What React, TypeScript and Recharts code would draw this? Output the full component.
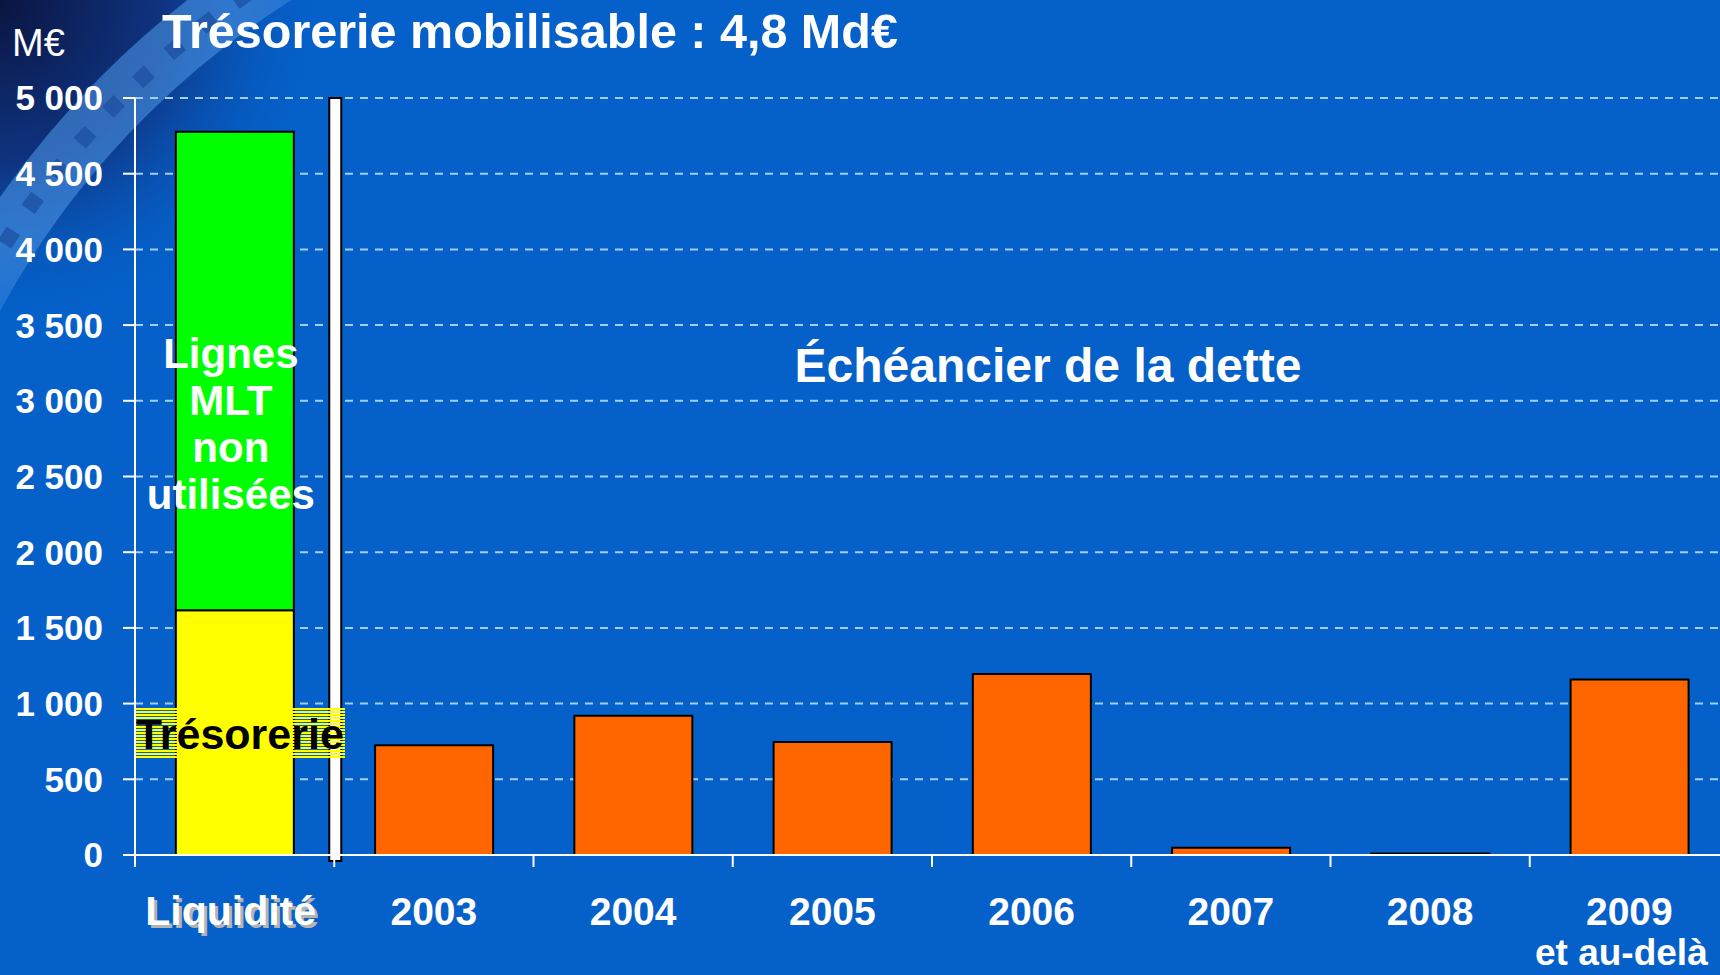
import React from 'react';
import { BarChart, Bar, XAxis, YAxis, CartesianGrid, ReferenceLine } from 'recharts';

const categories = ['Liquidité', '2003', '2004', '2005', '2006', '2007', '2008', '2009'];
const subLabels = ['', '', '', '', '', '', '', 'et au-delà'];
const tresorerie = [1617, null, null, null, null, null, null, null];
const lignesMLT = [3160, null, null, null, null, null, null, null];
const echeancier = [null, 725, 920, 747, 1195, 48, 10, 1159];
const yTicks = [0, 500, 1000, 1500, 2000, 2500, 3000, 3500, 4000, 4500, 5000];
const lignesLines = ['Lignes', 'MLT', 'non', 'utilisées'];
const tresoLabel = 'Trésorerie';
const title = 'Trésorerie mobilisable : 4,8 Md€';
const unit = 'M€';
const sectionLabel = 'Échéancier de la dette';

const data = categories.map((c, i) => ({
  name: c,
  treso: tresorerie[i],
  lignes: lignesMLT[i],
  dette: echeancier[i],
  sub: subLabels[i],
}));

const W = 1730;
const H = 975;
const MARGIN = { top: 98, right: 1, bottom: 10, left: 0 };
const Y_AXIS_W = 135;
const X_AXIS_H = 110;
const BAND = (W - MARGIN.right - MARGIN.left - Y_AXIS_W) / categories.length;
const FONT = '"Liberation Sans", Arial, Helvetica, sans-serif';

const fmt = (v: number) => (v >= 1000 ? `${Math.floor(v / 1000)} ${String(v % 1000).padStart(3, '0')}` : String(v));

const XTick = (props: any) => {
  const { x, y, payload, index } = props;
  const left = x - BAND / 2;
  const sub = subLabels[index ?? payload.index] || '';
  const isLiq = payload.value === 'Liquidité';
  return (
    <g>
      <line x1={left} x2={left} y1={y - 12} y2={y} stroke="#ffffff" strokeWidth={2} />
      {isLiq && (
        <text x={x - 1} y={y + 61} textAnchor="middle" fill="#b4b4b4" fontSize={41} fontWeight="bold" fontFamily={FONT}>
          {payload.value}
        </text>
      )}
      <text x={isLiq ? x - 4 : x} y={y + 58} textAnchor="middle" fill="#ffffff" fontSize={isLiq ? 41 : 39} fontWeight="bold" fontFamily={FONT}>
        {payload.value}
      </text>
      {sub && (
        <text x={x - 8} y={y + 98} textAnchor="middle" fill="#ffffff" fontSize={37} fontWeight="bold" fontFamily={FONT}>
          {sub}
        </text>
      )}
    </g>
  );
};

const getBox = (props: any) => {
  const vb = props.viewBox || {};
  return {
    x: props.x ?? vb.x,
    y: props.y ?? vb.y,
    width: props.width ?? vb.width,
    height: props.height ?? vb.height,
  };
};

const LignesLabel = (props: any) => {
  if (props.index !== 0) return null;
  const { x, y, width } = getBox(props);
  const cx = x + width / 2 - 4;
  return (
    <text fill="#ffffff" fontSize={42} fontWeight="bold" fontFamily={FONT} textAnchor="middle">
      {lignesLines.map((l, i) => (
        <tspan key={l} x={cx} y={y + 236 + i * 47}>
          {l}
        </tspan>
      ))}
    </text>
  );
};

const TresoLabel = (props: any) => {
  if (props.index !== 0) return null;
  const { x, y, width } = getBox(props);
  const cx = x + width / 2;
  const top = Math.round(y + 98);
  return (
    <g>
      <defs>
        <pattern id="tresoStripes" patternUnits="userSpaceOnUse" x={0} y={top} width={6} height={3}>
          <rect x={0} y={0} width={6} height={2} fill="#ffff00" />
        </pattern>
      </defs>
      <rect x={Math.round(cx - 98.5)} y={top} width={209} height={50} fill="url(#tresoStripes)" />
      <text x={cx + 5} y={top + 41} textAnchor="middle" fill="#000000" fontSize={43} fontWeight="bold" fontFamily={FONT}>
        {tresoLabel}
      </text>
    </g>
  );
};

const Separator = (props: any) => {
  const { x1, y1, y2 } = props;
  const top = Math.min(y1, y2);
  const bottom = Math.max(y1, y2);
  return <rect x={x1 - 5} y={top} width={12} height={bottom - top + 6} fill="#ffffff" stroke="#000000" strokeWidth={2} />;
};

const Background = () => (
  <svg width={1720} height={975} style={{ position: 'absolute', left: 0, top: 0 }}>
    <defs>
      <radialGradient id="cornerGrad" cx="0" cy="0" r="330" gradientUnits="userSpaceOnUse">
        <stop offset="0" stopColor="#0a1440" stopOpacity={1} />
        <stop offset="0.5" stopColor="#102e78" stopOpacity={0.9} />
        <stop offset="1" stopColor="#0560c9" stopOpacity={0} />
      </radialGradient>
      <radialGradient id="fadeMaskGrad" cx="0" cy="0" r="430" gradientUnits="userSpaceOnUse">
        <stop offset="0" stopColor="#ffffff" />
        <stop offset="0.55" stopColor="#ffffff" />
        <stop offset="1" stopColor="#000000" />
      </radialGradient>
      <mask id="cornerMask">
        <rect x={0} y={0} width={1720} height={975} fill="url(#fadeMaskGrad)" />
      </mask>
    </defs>
    <rect x={0} y={0} width={1720} height={975} fill="#0560c9" />
    <rect x={0} y={0} width={500} height={500} fill="url(#cornerGrad)" />
    <g mask="url(#cornerMask)">
      <circle cx={740} cy={713} r={872} fill="none" stroke="#4a93e2" strokeOpacity={0.6} strokeWidth={60} />
      <circle cx={740} cy={713} r={872} fill="none" stroke="#1d4d9e" strokeOpacity={0.7} strokeWidth={16} strokeDasharray="16 26" />
    </g>
  </svg>
);

const Overlay = () => (
  <svg width={1720} height={975} style={{ position: 'absolute', left: 0, top: 0, pointerEvents: 'none' }}>
    <text x={12} y={56} fill="#ffffff" fontSize={38} fontFamily={FONT}>
      {unit}
    </text>
    <text x={162} y={48} fill="#ffffff" fontSize={48.5} fontWeight="bold" fontFamily={FONT}>
      {title}
    </text>
    <text x={1048} y={382} textAnchor="middle" fill="#ffffff" fontSize={48} fontWeight="bold" fontFamily={FONT}>
      {sectionLabel}
    </text>
  </svg>
);

export default function App() {
  return (
    <div style={{ position: 'relative', width: 1720, height: 975, overflow: 'hidden' }}>
      <style>{`body{margin:0;overflow:hidden;}`}</style>
      <Background />
      <div style={{ position: 'absolute', left: 0, top: 0 }}>
        <BarChart width={W} height={H} data={data} margin={MARGIN} barCategoryGap="20.5%">
          <CartesianGrid vertical={false} stroke="#a0cff7" strokeWidth={2} strokeDasharray="8 7" />
          <XAxis
            dataKey="name"
            height={X_AXIS_H}
            axisLine={{ stroke: '#ffffff', strokeWidth: 2 }}
            tickLine={false}
            tickSize={12}
            tickMargin={0}
            tick={<XTick />}
            interval={0}
          />
          <YAxis
            width={Y_AXIS_W}
            domain={[0, 5000]}
            ticks={yTicks}
            interval={0}
            tickFormatter={fmt}
            axisLine={{ stroke: '#ffffff', strokeWidth: 2 }}
            tickLine={{ stroke: '#ffffff', strokeWidth: 2 }}
            tickSize={12}
            tickMargin={20}
            tick={{ fill: '#ffffff', fontSize: 35, fontWeight: 'bold', fontFamily: FONT }}
          />
          <ReferenceLine x="2003" position="start" shape={Separator} ifOverflow="visible" />
          <Bar dataKey="treso" stackId="a" fill="#ffff00" stroke="#000000" strokeWidth={2} isAnimationActive={false} label={TresoLabel} />
          <Bar dataKey="lignes" stackId="a" fill="#00ff00" stroke="#000000" strokeWidth={2} isAnimationActive={false} label={LignesLabel} />
          <Bar dataKey="dette" stackId="a" fill="#ff6600" stroke="#000000" strokeWidth={2} isAnimationActive={false} />
        </BarChart>
      </div>
      <Overlay />
    </div>
  );
}
